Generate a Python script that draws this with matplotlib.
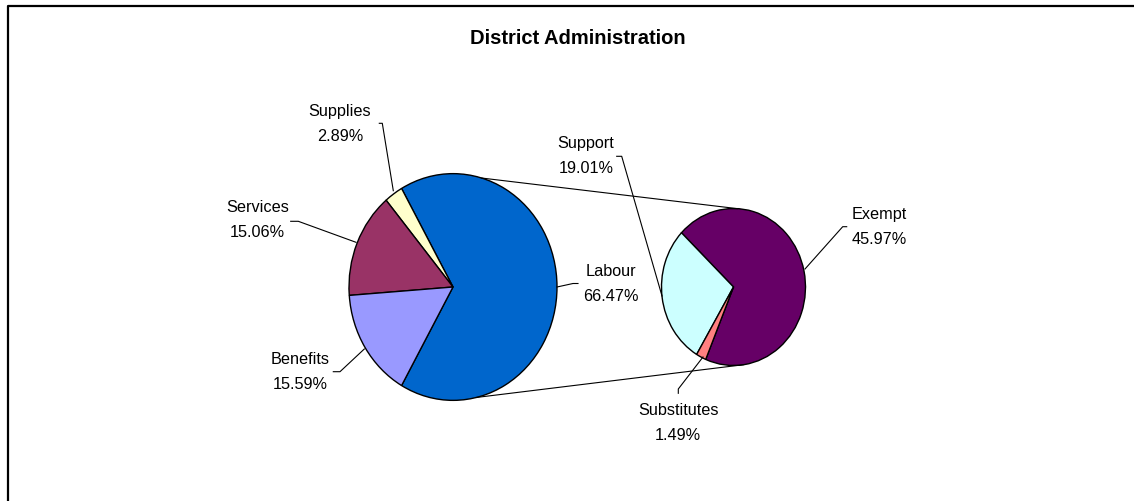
import numpy as np
import matplotlib
matplotlib.use("Agg")
import matplotlib.pyplot as plt

plt.rcParams['font.family'] = ['Liberation Sans', 'DejaVu Sans']

# data
main_labels = ['Labour', 'Supplies', 'Services', 'Benefits']
other_values = [2.89, 15.06, 15.59]          # Supplies, Services, Benefits
split_labels = ['Exempt', 'Support', 'Substitutes']
split_values = [45.97, 19.01, 1.49]
main_colors = ['#0066CC', '#FFFFCC', '#993366', '#9999FF']
split_colors = ['#660066', '#CCFFFF', '#FF8080']

labour = sum(split_values)
main_values = [labour] + other_values

W, H = 1134, 502
SY = 1.09  # vertical stretch of the pies (Excel draws them slightly oval)


def P(px, py):
    # pixel position -> data coords
    return px, (H - py) / SY


fig = plt.figure(figsize=(W / 100, H / 100), dpi=100)
ax = fig.add_axes([0, 0, 1, 1])

c1 = P(453, 288)
r1 = 104
c2 = P(733.5, 288)
r2 = 72

start1 = -360 * labour / sum(main_values) / 2
ax.pie(main_values, colors=main_colors, startangle=start1, counterclock=True,
       center=c1, radius=r1, wedgeprops=dict(edgecolor='black', linewidth=1))
ax.pie(split_values, colors=split_colors, startangle=247.3, counterclock=True,
       center=c2, radius=r2, wedgeprops=dict(edgecolor='black', linewidth=1))

ax.set_aspect('auto')
ax.set_xlim(0, W)
ax.set_ylim(0, H / SY)
ax.axis('off')


def on_pie(c, r, ang):
    a = np.radians(ang)
    return c[0] + r * np.cos(a), c[1] + r * np.sin(a)


# connector lines between the pies
for a1, a2 in [(74, 87), (-77, -82)]:
    p1 = on_pie(c1, r1, a1)
    p2 = on_pie(c2, r2, a2)
    ax.plot([p1[0], p2[0]], [p1[1], p2[1]], color='black', lw=0.8)

# labels: name, value, text centre (px), leader line (px)
label_specs = [
    ('Supplies', other_values[0], (340, 112), [(379.3, 124.3), (382.3, 124.3), (393.3, 191.7)]),
    ('Services', other_values[1], (257.5, 208), [(290.7, 222.3), (298.3, 222.3), (356, 243.3)]),
    ('Benefits', other_values[2], (300.5, 360), [(333.3, 372.7), (340, 372.7), (364.3, 350)]),
    ('Labour', labour, (611, 272), [(578, 284.5), (573, 284.5), (557, 288)]),
    ('Support', split_values[1], (586, 144), [(616.7, 157.3), (621.7, 157.3), (662, 297)]),
    ('Exempt', split_values[0], (879, 215), [(846.7, 227.7), (842.7, 227.7), (805, 270)]),
    ('Substitutes', split_values[2], (678.3, 411), [(678.3, 394.3), (678.3, 390), (703, 358)]),
]

for name, val, (tx, ty), leader in label_specs:
    ax.text(*P(tx, ty), name, ha='center', va='center', fontsize=11.7)
    ax.text(*P(tx, ty + 25), f'{val:.2f}%', ha='center', va='center', fontsize=11.7)
    xs, ys = zip(*[P(x, y) for x, y in leader])
    ax.plot(xs, ys, color='black', lw=0.8)

ax.text(*P(578, 39), 'District Administration', ha='center', va='center',
        fontsize=14.5, fontweight='bold')

# chart border (only top and left visible)
bx, by = zip(*[P(8, H), P(8, 7), P(W, 7)])
ax.plot(bx, by, color='black', lw=1.6, clip_on=False)

fig.savefig('out.png', dpi=100)
